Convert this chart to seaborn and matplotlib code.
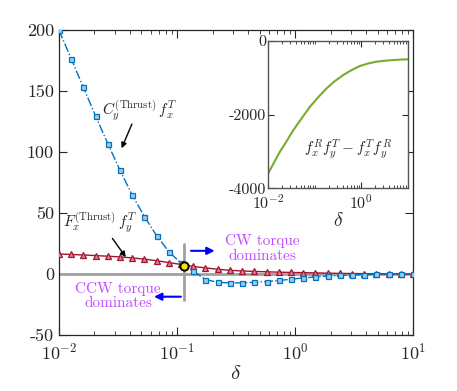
import numpy as np
import pandas as pd
import matplotlib
matplotlib.use("Agg")
import matplotlib.pyplot as plt
import matplotlib.ticker as mticker
import seaborn as sns

# data
delta = [0.0100, 0.01269, 0.01610, 0.02043, 0.02593, 0.03290, 0.04175, 0.05298,
         0.06723, 0.08532, 0.1083, 0.1374, 0.1743, 0.2212, 0.2807, 0.3562,
         0.4520, 0.5736, 0.7279, 0.9237, 1.172, 1.487, 1.887, 2.395, 3.039,
         3.857, 4.894, 6.210, 7.880, 10.0]
cy_fx = [200, 176.5, 153, 129.5, 106.8, 85, 64.8, 47, 31.4, 18.3, 8.8, 2.3,
         -4.5, -6.8, -7.3, -7.2, -6.8, -6.2, -5.3, -4.3, -3.2, -2.4, -1.7,
         -1.2, -0.7, -0.4, -0.2, -0.1, -0.05, 0]
fx_fy = [16.4, 16.0, 15.6, 15.1, 14.6, 14.0, 13.2, 12.2, 10.9, 9.4, 7.8, 6.2,
         5.0, 3.9, 3.0, 2.5, 2.1, 1.8, 1.5, 1.3, 1.1, 0.9, 0.7, 0.5, 0.4, 0.3,
         0.2, 0.1, 0.05, 0.0]
cross_delta = 0.1156
cross_val = 6.8

inset_delta = [0.01, 0.0133, 0.0178, 0.0251, 0.0347, 0.053, 0.079, 0.12, 0.18,
               0.27, 0.41, 0.62, 0.93, 1.4, 2.1, 3.2, 4.9, 7.0, 10.0]
inset_val = [-3593, -3300, -3006, -2710, -2417, -2090, -1784, -1520, -1285,
             -1090, -923, -790, -679, -610, -562, -535, -516, -504, -497]

blue = "#0072BD"
red = "#A2142F"
green = "#77AC30"
purple = "#C04DFF"
gray = "#A0A0A0"

sns.set_style("ticks")
plt.rcParams.update({
    "font.family": ["cmr10", "DejaVu Serif"],
    "mathtext.fontset": "cm",
    "axes.unicode_minus": False,
    "axes.formatter.use_mathtext": True,
    "font.size": 11,
    "xtick.direction": "in",
    "ytick.direction": "in",
    "axes.edgecolor": "#262626",
})

df = pd.DataFrame({"delta": delta, "cy": cy_fx, "fx": fx_fy})

fig = plt.figure(figsize=(4.57, 3.91), dpi=100)
ax = fig.add_axes([0.129, 0.1432, 0.775, 0.780])

ax.axhline(0, color=gray, lw=2, zorder=1)
ax.plot([cross_delta, cross_delta], [-21, 25], color=gray, lw=2, zorder=1)

sns.lineplot(data=df, x="delta", y="fx", ax=ax, color=red, lw=1.0,
             marker="^", markersize=4.5, markerfacecolor="#D98090",
             markeredgecolor=red, markeredgewidth=0.9, zorder=3)
sns.lineplot(data=df, x="delta", y="cy", ax=ax, color=blue, lw=1.0,
             linestyle="-.", marker="s", markersize=3.6,
             markerfacecolor="#9ACBEE", markeredgecolor=blue,
             markeredgewidth=0.9, zorder=4)
ax.plot([cross_delta], [cross_val], marker="o", markersize=6,
        markerfacecolor="#F2E600", markeredgecolor="black",
        markeredgewidth=1.4, zorder=5)

ax.set_xscale("log")
ax.set_xlim(1e-2, 1e1)
ax.set_ylim(-50, 200)
ax.set_yticks([-50, 0, 50, 100, 150, 200])
ax.set_yticklabels(["-50", "0", "50", "100", "150", "200"])
ax.xaxis.set_major_locator(mticker.LogLocator(base=10, numticks=10))
ax.xaxis.set_minor_locator(mticker.LogLocator(base=10, subs=np.arange(2, 10), numticks=20))
ax.tick_params(which="both", top=True, right=True, labelsize=13)
ax.tick_params(axis="x", pad=5)
ax.tick_params(which="major", length=6, width=0.8)
ax.tick_params(which="minor", length=3, width=0.6)
ax.set_xlabel(r"$\delta$", fontsize=15, labelpad=2)
ax.set_ylabel("")
for s in ax.spines.values():
    s.set_linewidth(0.9)

# annotations
ax.text(0.048, 134, r"$C_y^{(\mathrm{Thrust})}\, f_x^T$", fontsize=11,
        ha="center", va="center")
ax.annotate("", xy=(0.0332, 101), xytext=(0.0424, 125),
            arrowprops=dict(arrowstyle="-|>", color="black", lw=1.0,
                            mutation_scale=8))
ax.text(0.0225, 42, r"$F_x^{(\mathrm{Thrust})}\, f_y^T$", fontsize=11,
        ha="center", va="center")
ax.annotate("", xy=(0.038, 12), xytext=(0.0275, 31),
            arrowprops=dict(arrowstyle="-|>", color="black", lw=1.0,
                            mutation_scale=8))
ax.annotate("", xy=(0.22, 19), xytext=(0.1245, 19),
            arrowprops=dict(arrowstyle="-|>", color="blue", lw=1.5,
                            mutation_scale=11))
ax.annotate("", xy=(0.0605, -18.6), xytext=(0.114, -18.6),
            arrowprops=dict(arrowstyle="-|>", color="blue", lw=1.5,
                            mutation_scale=11))
ax.text(0.53, 21, "CW torque\ndominates", color=purple, fontsize=11,
        ha="center", va="center", linespacing=1.1)
ax.text(0.0316, -18, "CCW torque\ndominates", color=purple, fontsize=11,
        ha="center", va="center", linespacing=1.1)

# inset
ins = fig.add_axes([0.587, 0.5184, 0.305, 0.3766])
sns.lineplot(x=inset_delta, y=inset_val, ax=ins, color=green, lw=1.5)
ins.set_xscale("log")
ins.set_xlim(1e-2, 1e1)
ins.set_ylim(-4000, 0)
ins.set_yticks([-4000, -2000, 0])
ins.set_yticklabels(["-4000", "-2000", "0"])
ins.set_xticks([1e-2, 1e0])
ins.xaxis.set_minor_locator(mticker.LogLocator(base=10, subs=np.arange(1, 10), numticks=20))
ins.xaxis.set_minor_formatter(mticker.NullFormatter())
ins.tick_params(which="both", top=True, right=True, labelsize=11.5, pad=1.5)
ins.tick_params(axis="x", pad=3.5)
ins.tick_params(which="major", length=4, width=0.8)
ins.tick_params(which="minor", length=2, width=0.6)
ins.set_xlabel(r"$\delta$", fontsize=14, labelpad=0)
ins.text(0.57, 0.27, r"$f_x^R f_y^T - f_x^T f_y^R$", transform=ins.transAxes,
         fontsize=11, ha="center", va="center")
for s in ins.spines.values():
    s.set_linewidth(1.0)
    s.set_color("#555555")

fig.savefig("out.png", dpi=100)
